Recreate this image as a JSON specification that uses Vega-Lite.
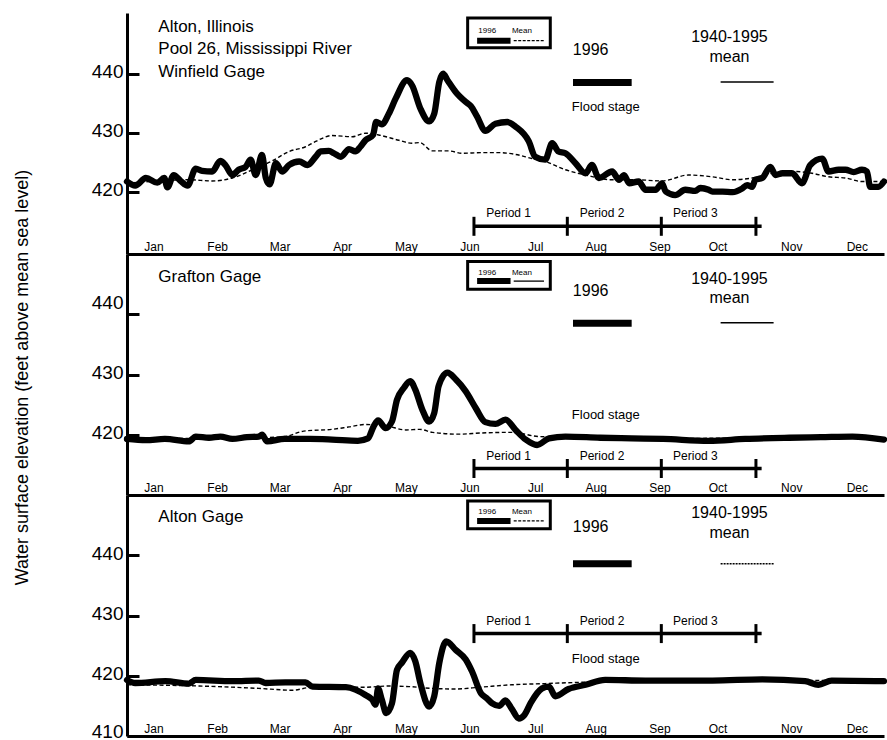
{
  "$schema": "https://vega.github.io/schema/vega-lite/v6.json",
  "padding": {"left": 12, "top": 13, "right": 0, "bottom": 0},
  "background": "white",
  "spacing": 0,
  "bounds": "flush",
  "config": {
    "view": {"stroke": null},
    "font": "Liberation Sans",
    "text": {"font": "Liberation Sans"},
    "axis": {"labelFont": "Liberation Sans", "titleFont": "Liberation Sans"}
  },
  "datasets": {
    "hydro": [
      {"g":"Winfield","s":"1996","month":0,"elev":421.7},{"g":"Winfield","s":"1996","month":0.13,"elev":421.0},{"g":"Winfield","s":"1996","month":0.3,"elev":422.3},{"g":"Winfield","s":"1996","month":0.48,"elev":421.5},{"g":"Winfield","s":"1996","month":0.59,"elev":422.3},{"g":"Winfield","s":"1996","month":0.64,"elev":420.7},{"g":"Winfield","s":"1996","month":0.74,"elev":422.8},{"g":"Winfield","s":"1996","month":0.85,"elev":421.8},{"g":"Winfield","s":"1996","month":0.96,"elev":421.0},{"g":"Winfield","s":"1996","month":1.09,"elev":423.9},{"g":"Winfield","s":"1996","month":1.19,"elev":423.5},{"g":"Winfield","s":"1996","month":1.35,"elev":423.4},{"g":"Winfield","s":"1996","month":1.48,"elev":425.2},{"g":"Winfield","s":"1996","month":1.56,"elev":424.5},{"g":"Winfield","s":"1996","month":1.67,"elev":422.8},{"g":"Winfield","s":"1996","month":1.77,"elev":423.7},{"g":"Winfield","s":"1996","month":1.88,"elev":424.2},{"g":"Winfield","s":"1996","month":1.96,"elev":425.4},{"g":"Winfield","s":"1996","month":2.04,"elev":422.8},{"g":"Winfield","s":"1996","month":2.14,"elev":426.2},{"g":"Winfield","s":"1996","month":2.2,"elev":422.3},{"g":"Winfield","s":"1996","month":2.26,"elev":421.2},{"g":"Winfield","s":"1996","month":2.36,"elev":424.8},{"g":"Winfield","s":"1996","month":2.46,"elev":423.4},{"g":"Winfield","s":"1996","month":2.57,"elev":424.5},{"g":"Winfield","s":"1996","month":2.73,"elev":425.1},{"g":"Winfield","s":"1996","month":2.86,"elev":424.5},{"g":"Winfield","s":"1996","month":2.99,"elev":425.9},{"g":"Winfield","s":"1996","month":3.07,"elev":426.8},{"g":"Winfield","s":"1996","month":3.2,"elev":426.9},{"g":"Winfield","s":"1996","month":3.28,"elev":426.5},{"g":"Winfield","s":"1996","month":3.39,"elev":425.9},{"g":"Winfield","s":"1996","month":3.52,"elev":427.2},{"g":"Winfield","s":"1996","month":3.62,"elev":426.8},{"g":"Winfield","s":"1996","month":3.7,"elev":427.6},{"g":"Winfield","s":"1996","month":3.78,"elev":428.7},{"g":"Winfield","s":"1996","month":3.9,"elev":429.6},{"g":"Winfield","s":"1996","month":3.95,"elev":431.8},{"g":"Winfield","s":"1996","month":4.04,"elev":431.4},{"g":"Winfield","s":"1996","month":4.15,"elev":433.2},{"g":"Winfield","s":"1996","month":4.26,"elev":435.8},{"g":"Winfield","s":"1996","month":4.44,"elev":438.9},{"g":"Winfield","s":"1996","month":4.52,"elev":438.0},{"g":"Winfield","s":"1996","month":4.65,"elev":434.1},{"g":"Winfield","s":"1996","month":4.79,"elev":431.9},{"g":"Winfield","s":"1996","month":4.87,"elev":433.2},{"g":"Winfield","s":"1996","month":4.95,"elev":438.6},{"g":"Winfield","s":"1996","month":5.01,"elev":440.0},{"g":"Winfield","s":"1996","month":5.08,"elev":438.9},{"g":"Winfield","s":"1996","month":5.21,"elev":436.9},{"g":"Winfield","s":"1996","month":5.37,"elev":435.2},{"g":"Winfield","s":"1996","month":5.45,"elev":434.5},{"g":"Winfield","s":"1996","month":5.55,"elev":432.7},{"g":"Winfield","s":"1996","month":5.68,"elev":430.3},{"g":"Winfield","s":"1996","month":5.84,"elev":431.5},{"g":"Winfield","s":"1996","month":6.03,"elev":431.8},{"g":"Winfield","s":"1996","month":6.16,"elev":431.0},{"g":"Winfield","s":"1996","month":6.37,"elev":428.5},{"g":"Winfield","s":"1996","month":6.47,"elev":425.9},{"g":"Winfield","s":"1996","month":6.63,"elev":425.4},{"g":"Winfield","s":"1996","month":6.74,"elev":428.2},{"g":"Winfield","s":"1996","month":6.84,"elev":426.8},{"g":"Winfield","s":"1996","month":6.95,"elev":426.5},{"g":"Winfield","s":"1996","month":7.11,"elev":424.8},{"g":"Winfield","s":"1996","month":7.27,"elev":423.1},{"g":"Winfield","s":"1996","month":7.37,"elev":424.5},{"g":"Winfield","s":"1996","month":7.48,"elev":422.3},{"g":"Winfield","s":"1996","month":7.69,"elev":423.4},{"g":"Winfield","s":"1996","month":7.8,"elev":422.0},{"g":"Winfield","s":"1996","month":7.88,"elev":422.8},{"g":"Winfield","s":"1996","month":7.96,"elev":421.4},{"g":"Winfield","s":"1996","month":8.11,"elev":421.7},{"g":"Winfield","s":"1996","month":8.22,"elev":420.3},{"g":"Winfield","s":"1996","month":8.38,"elev":420.3},{"g":"Winfield","s":"1996","month":8.48,"elev":421.4},{"g":"Winfield","s":"1996","month":8.54,"elev":420.0},{"g":"Winfield","s":"1996","month":8.69,"elev":419.4},{"g":"Winfield","s":"1996","month":8.85,"elev":420.3},{"g":"Winfield","s":"1996","month":9.01,"elev":420.1},{"g":"Winfield","s":"1996","month":9.09,"elev":420.6},{"g":"Winfield","s":"1996","month":9.22,"elev":420.3},{"g":"Winfield","s":"1996","month":9.28,"elev":420.0},{"g":"Winfield","s":"1996","month":9.44,"elev":420.0},{"g":"Winfield","s":"1996","month":9.6,"elev":419.9},{"g":"Winfield","s":"1996","month":9.75,"elev":420.5},{"g":"Winfield","s":"1996","month":9.83,"elev":421.1},{"g":"Winfield","s":"1996","month":9.91,"elev":420.8},{"g":"Winfield","s":"1996","month":9.96,"elev":422.0},{"g":"Winfield","s":"1996","month":10.07,"elev":422.3},{"g":"Winfield","s":"1996","month":10.2,"elev":424.2},{"g":"Winfield","s":"1996","month":10.28,"elev":422.8},{"g":"Winfield","s":"1996","month":10.39,"elev":423.1},{"g":"Winfield","s":"1996","month":10.54,"elev":423.1},{"g":"Winfield","s":"1996","month":10.7,"elev":421.4},{"g":"Winfield","s":"1996","month":10.83,"elev":424.5},{"g":"Winfield","s":"1996","month":11.02,"elev":425.6},{"g":"Winfield","s":"1996","month":11.12,"elev":423.4},{"g":"Winfield","s":"1996","month":11.28,"elev":423.7},{"g":"Winfield","s":"1996","month":11.39,"elev":423.7},{"g":"Winfield","s":"1996","month":11.52,"elev":423.3},{"g":"Winfield","s":"1996","month":11.65,"elev":423.7},{"g":"Winfield","s":"1996","month":11.73,"elev":423.4},{"g":"Winfield","s":"1996","month":11.78,"elev":420.8},{"g":"Winfield","s":"1996","month":11.91,"elev":420.8},{"g":"Winfield","s":"1996","month":12,"elev":421.7},
      {"g":"Winfield","s":"mean","month":0,"elev":421.4},{"g":"Winfield","s":"mean","month":0.98,"elev":422.0},{"g":"Winfield","s":"mean","month":1.35,"elev":421.8},{"g":"Winfield","s":"mean","month":1.67,"elev":422.3},{"g":"Winfield","s":"mean","month":1.99,"elev":423.7},{"g":"Winfield","s":"mean","month":2.3,"elev":425.2},{"g":"Winfield","s":"mean","month":2.57,"elev":426.8},{"g":"Winfield","s":"mean","month":2.83,"elev":427.6},{"g":"Winfield","s":"mean","month":2.99,"elev":428.5},{"g":"Winfield","s":"mean","month":3.25,"elev":429.5},{"g":"Winfield","s":"mean","month":3.57,"elev":429.3},{"g":"Winfield","s":"mean","month":3.78,"elev":429.9},{"g":"Winfield","s":"mean","month":3.99,"elev":429.6},{"g":"Winfield","s":"mean","month":4.31,"elev":428.7},{"g":"Winfield","s":"mean","month":4.52,"elev":428.2},{"g":"Winfield","s":"mean","month":4.64,"elev":428.3},{"g":"Winfield","s":"mean","month":4.84,"elev":426.9},{"g":"Winfield","s":"mean","month":5.1,"elev":426.9},{"g":"Winfield","s":"mean","month":5.31,"elev":426.5},{"g":"Winfield","s":"mean","month":5.63,"elev":426.6},{"g":"Winfield","s":"mean","month":5.9,"elev":426.6},{"g":"Winfield","s":"mean","month":6.16,"elev":426.3},{"g":"Winfield","s":"mean","month":6.42,"elev":425.6},{"g":"Winfield","s":"mean","month":6.63,"elev":425.1},{"g":"Winfield","s":"mean","month":6.95,"elev":423.7},{"g":"Winfield","s":"mean","month":7.27,"elev":422.8},{"g":"Winfield","s":"mean","month":7.69,"elev":422.0},{"g":"Winfield","s":"mean","month":8.06,"elev":422.0},{"g":"Winfield","s":"mean","month":8.48,"elev":421.8},{"g":"Winfield","s":"mean","month":8.9,"elev":422.8},{"g":"Winfield","s":"mean","month":9.28,"elev":422.5},{"g":"Winfield","s":"mean","month":9.6,"elev":422.0},{"g":"Winfield","s":"mean","month":9.91,"elev":422.3},{"g":"Winfield","s":"mean","month":10.22,"elev":423.1},{"g":"Winfield","s":"mean","month":10.59,"elev":423.4},{"g":"Winfield","s":"mean","month":10.86,"elev":423.1},{"g":"Winfield","s":"mean","month":11.12,"elev":422.5},{"g":"Winfield","s":"mean","month":11.39,"elev":422.3},{"g":"Winfield","s":"mean","month":11.65,"elev":421.7},{"g":"Winfield","s":"mean","month":12,"elev":421.7},
      {"g":"Grafton","s":"1996","month":0,"elev":419.3},{"g":"Grafton","s":"1996","month":0.3,"elev":419.1},{"g":"Grafton","s":"1996","month":0.6,"elev":419.3},{"g":"Grafton","s":"1996","month":0.98,"elev":418.9},{"g":"Grafton","s":"1996","month":1.09,"elev":419.7},{"g":"Grafton","s":"1996","month":1.3,"elev":419.5},{"g":"Grafton","s":"1996","month":1.48,"elev":419.7},{"g":"Grafton","s":"1996","month":1.67,"elev":419.3},{"g":"Grafton","s":"1996","month":1.9,"elev":419.6},{"g":"Grafton","s":"1996","month":2.09,"elev":419.7},{"g":"Grafton","s":"1996","month":2.14,"elev":420.0},{"g":"Grafton","s":"1996","month":2.22,"elev":418.9},{"g":"Grafton","s":"1996","month":2.5,"elev":419.3},{"g":"Grafton","s":"1996","month":2.9,"elev":419.3},{"g":"Grafton","s":"1996","month":3.25,"elev":419.2},{"g":"Grafton","s":"1996","month":3.66,"elev":419.0},{"g":"Grafton","s":"1996","month":3.82,"elev":419.4},{"g":"Grafton","s":"1996","month":3.91,"elev":421.4},{"g":"Grafton","s":"1996","month":3.98,"elev":422.4},{"g":"Grafton","s":"1996","month":4.1,"elev":421.1},{"g":"Grafton","s":"1996","month":4.2,"elev":422.2},{"g":"Grafton","s":"1996","month":4.28,"elev":425.8},{"g":"Grafton","s":"1996","month":4.39,"elev":427.8},{"g":"Grafton","s":"1996","month":4.49,"elev":428.9},{"g":"Grafton","s":"1996","month":4.57,"elev":427.5},{"g":"Grafton","s":"1996","month":4.68,"elev":424.2},{"g":"Grafton","s":"1996","month":4.79,"elev":422.2},{"g":"Grafton","s":"1996","month":4.87,"elev":423.6},{"g":"Grafton","s":"1996","month":4.94,"elev":428.1},{"g":"Grafton","s":"1996","month":5.08,"elev":430.3},{"g":"Grafton","s":"1996","month":5.21,"elev":429.2},{"g":"Grafton","s":"1996","month":5.37,"elev":427.2},{"g":"Grafton","s":"1996","month":5.53,"elev":424.4},{"g":"Grafton","s":"1996","month":5.68,"elev":422.1},{"g":"Grafton","s":"1996","month":5.84,"elev":421.8},{"g":"Grafton","s":"1996","month":6.0,"elev":422.5},{"g":"Grafton","s":"1996","month":6.16,"elev":420.8},{"g":"Grafton","s":"1996","month":6.32,"elev":419.2},{"g":"Grafton","s":"1996","month":6.5,"elev":418.3},{"g":"Grafton","s":"1996","month":6.69,"elev":419.4},{"g":"Grafton","s":"1996","month":6.95,"elev":419.7},{"g":"Grafton","s":"1996","month":7.5,"elev":419.5},{"g":"Grafton","s":"1996","month":8.0,"elev":419.4},{"g":"Grafton","s":"1996","month":8.5,"elev":419.3},{"g":"Grafton","s":"1996","month":9.22,"elev":419.0},{"g":"Grafton","s":"1996","month":9.8,"elev":419.3},{"g":"Grafton","s":"1996","month":10.5,"elev":419.5},{"g":"Grafton","s":"1996","month":11.0,"elev":419.6},{"g":"Grafton","s":"1996","month":11.5,"elev":419.7},{"g":"Grafton","s":"1996","month":12,"elev":419.2},
      {"g":"Grafton","s":"mean","month":0,"elev":419.4},{"g":"Grafton","s":"mean","month":1.0,"elev":419.4},{"g":"Grafton","s":"mean","month":2.0,"elev":419.5},{"g":"Grafton","s":"mean","month":2.5,"elev":419.7},{"g":"Grafton","s":"mean","month":2.8,"elev":420.6},{"g":"Grafton","s":"mean","month":3.25,"elev":420.9},{"g":"Grafton","s":"mean","month":3.52,"elev":421.3},{"g":"Grafton","s":"mean","month":3.78,"elev":421.7},{"g":"Grafton","s":"mean","month":4.1,"elev":421.5},{"g":"Grafton","s":"mean","month":4.42,"elev":420.8},{"g":"Grafton","s":"mean","month":4.64,"elev":420.9},{"g":"Grafton","s":"mean","month":4.84,"elev":420.4},{"g":"Grafton","s":"mean","month":5.26,"elev":420.1},{"g":"Grafton","s":"mean","month":5.63,"elev":420.3},{"g":"Grafton","s":"mean","month":6.1,"elev":420.4},{"g":"Grafton","s":"mean","month":6.53,"elev":419.7},{"g":"Grafton","s":"mean","month":7.0,"elev":419.6},{"g":"Grafton","s":"mean","month":8.0,"elev":419.5},{"g":"Grafton","s":"mean","month":9.0,"elev":419.4},{"g":"Grafton","s":"mean","month":10.0,"elev":419.5},{"g":"Grafton","s":"mean","month":11.0,"elev":419.6},{"g":"Grafton","s":"mean","month":12,"elev":419.5},
      {"g":"Alton","s":"1996","month":0,"elev":419.3},{"g":"Alton","s":"1996","month":0.13,"elev":418.8},{"g":"Alton","s":"1996","month":0.61,"elev":419.1},{"g":"Alton","s":"1996","month":0.98,"elev":418.7},{"g":"Alton","s":"1996","month":1.09,"elev":419.3},{"g":"Alton","s":"1996","month":1.67,"elev":419.1},{"g":"Alton","s":"1996","month":2.09,"elev":419.2},{"g":"Alton","s":"1996","month":2.2,"elev":418.8},{"g":"Alton","s":"1996","month":2.51,"elev":418.9},{"g":"Alton","s":"1996","month":2.83,"elev":418.9},{"g":"Alton","s":"1996","month":2.94,"elev":418.2},{"g":"Alton","s":"1996","month":3.47,"elev":418.1},{"g":"Alton","s":"1996","month":3.62,"elev":417.7},{"g":"Alton","s":"1996","month":3.78,"elev":416.8},{"g":"Alton","s":"1996","month":3.89,"elev":416.0},{"g":"Alton","s":"1996","month":3.94,"elev":415.2},{"g":"Alton","s":"1996","month":3.98,"elev":417.9},{"g":"Alton","s":"1996","month":4.04,"elev":416.0},{"g":"Alton","s":"1996","month":4.11,"elev":413.8},{"g":"Alton","s":"1996","month":4.2,"elev":415.4},{"g":"Alton","s":"1996","month":4.28,"elev":421.0},{"g":"Alton","s":"1996","month":4.36,"elev":422.2},{"g":"Alton","s":"1996","month":4.49,"elev":423.8},{"g":"Alton","s":"1996","month":4.57,"elev":422.4},{"g":"Alton","s":"1996","month":4.65,"elev":418.8},{"g":"Alton","s":"1996","month":4.79,"elev":414.9},{"g":"Alton","s":"1996","month":4.87,"elev":416.6},{"g":"Alton","s":"1996","month":4.95,"elev":422.1},{"g":"Alton","s":"1996","month":5.06,"elev":425.7},{"g":"Alton","s":"1996","month":5.21,"elev":424.3},{"g":"Alton","s":"1996","month":5.37,"elev":422.7},{"g":"Alton","s":"1996","month":5.47,"elev":420.7},{"g":"Alton","s":"1996","month":5.61,"elev":417.1},{"g":"Alton","s":"1996","month":5.7,"elev":416.3},{"g":"Alton","s":"1996","month":5.79,"elev":415.4},{"g":"Alton","s":"1996","month":5.9,"elev":415.0},{"g":"Alton","s":"1996","month":6.0,"elev":415.9},{"g":"Alton","s":"1996","month":6.1,"elev":414.5},{"g":"Alton","s":"1996","month":6.21,"elev":412.9},{"g":"Alton","s":"1996","month":6.3,"elev":413.5},{"g":"Alton","s":"1996","month":6.4,"elev":415.5},{"g":"Alton","s":"1996","month":6.58,"elev":417.9},{"g":"Alton","s":"1996","month":6.69,"elev":418.2},{"g":"Alton","s":"1996","month":6.79,"elev":416.6},{"g":"Alton","s":"1996","month":7.0,"elev":417.8},{"g":"Alton","s":"1996","month":7.27,"elev":418.5},{"g":"Alton","s":"1996","month":7.58,"elev":419.3},{"g":"Alton","s":"1996","month":8.22,"elev":419.2},{"g":"Alton","s":"1996","month":9.28,"elev":419.2},{"g":"Alton","s":"1996","month":10.07,"elev":419.4},{"g":"Alton","s":"1996","month":10.75,"elev":419.1},{"g":"Alton","s":"1996","month":10.96,"elev":418.5},{"g":"Alton","s":"1996","month":11.17,"elev":419.2},{"g":"Alton","s":"1996","month":12,"elev":419.1},
      {"g":"Alton","s":"mean","month":0,"elev":418.5},{"g":"Alton","s":"mean","month":1.14,"elev":418.3},{"g":"Alton","s":"mean","month":2.09,"elev":417.9},{"g":"Alton","s":"mean","month":2.62,"elev":417.6},{"g":"Alton","s":"mean","month":2.94,"elev":418.1},{"g":"Alton","s":"mean","month":3.57,"elev":418.1},{"g":"Alton","s":"mean","month":3.78,"elev":418.1},{"g":"Alton","s":"mean","month":4.15,"elev":418.3},{"g":"Alton","s":"mean","month":4.47,"elev":418.2},{"g":"Alton","s":"mean","month":4.84,"elev":417.9},{"g":"Alton","s":"mean","month":5.21,"elev":417.8},{"g":"Alton","s":"mean","month":5.6,"elev":418.1},{"g":"Alton","s":"mean","month":6.1,"elev":418.5},{"g":"Alton","s":"mean","month":6.63,"elev":418.7},{"g":"Alton","s":"mean","month":7.16,"elev":418.9},{"g":"Alton","s":"mean","month":8.0,"elev":419.1},{"g":"Alton","s":"mean","month":9.0,"elev":419.2},{"g":"Alton","s":"mean","month":10.0,"elev":419.3},{"g":"Alton","s":"mean","month":11.0,"elev":419.2},{"g":"Alton","s":"mean","month":12,"elev":419.2}
    ],
    "notes": [
      {"g":"Winfield","role":"title","text":"Alton, Illinois","month":0.496,"elev":447.0},
      {"g":"Winfield","role":"title","text":"Pool 26, Mississippi River","month":0.496,"elev":443.3},
      {"g":"Winfield","role":"title","text":"Winfield Gage","month":0.496,"elev":439.4},
      {"g":"Winfield","role":"big","text":"1996","month":7.35,"elev":443.1},
      {"g":"Winfield","role":"big","text":"1940-1995","month":9.55,"elev":445.4},
      {"g":"Winfield","role":"big","text":"mean","month":9.55,"elev":442.0},
      {"g":"Winfield","role":"small","text":"1996","month":5.71,"elev":446.9},
      {"g":"Winfield","role":"small","text":"Mean","month":6.26,"elev":446.9},
      {"g":"Winfield","role":"flood","text":"Flood stage","month":7.59,"elev":433.7},
      {"g":"Winfield","role":"period","text":"Period 1","month":6.05,"elev":415.6},
      {"g":"Winfield","role":"period","text":"Period 2","month":7.53,"elev":415.6},
      {"g":"Winfield","role":"period","text":"Period 3","month":9.01,"elev":415.6},
      {"g":"Grafton","role":"title","text":"Grafton Gage","month":0.496,"elev":445.3},
      {"g":"Grafton","role":"big","text":"1996","month":7.35,"elev":443.0},
      {"g":"Grafton","role":"big","text":"1940-1995","month":9.55,"elev":445.1},
      {"g":"Grafton","role":"big","text":"mean","month":9.55,"elev":441.8},
      {"g":"Grafton","role":"small","text":"1996","month":5.71,"elev":446.5},
      {"g":"Grafton","role":"small","text":"Mean","month":6.26,"elev":446.5},
      {"g":"Grafton","role":"flood","text":"Flood stage","month":7.59,"elev":422.6},
      {"g":"Grafton","role":"period","text":"Period 1","month":6.05,"elev":415.8},
      {"g":"Grafton","role":"period","text":"Period 2","month":7.53,"elev":415.8},
      {"g":"Grafton","role":"period","text":"Period 3","month":9.01,"elev":415.8},
      {"g":"Alton","role":"title","text":"Alton Gage","month":0.496,"elev":445.55},
      {"g":"Alton","role":"big","text":"1996","month":7.35,"elev":443.8},
      {"g":"Alton","role":"big","text":"1940-1995","month":9.55,"elev":446.1},
      {"g":"Alton","role":"big","text":"mean","month":9.55,"elev":442.8},
      {"g":"Alton","role":"small","text":"1996","month":5.71,"elev":446.8},
      {"g":"Alton","role":"small","text":"Mean","month":6.26,"elev":446.8},
      {"g":"Alton","role":"flood","text":"Flood stage","month":7.59,"elev":422.1},
      {"g":"Alton","role":"period","text":"Period 1","month":6.05,"elev":428.4},
      {"g":"Alton","role":"period","text":"Period 2","month":7.53,"elev":428.4},
      {"g":"Alton","role":"period","text":"Period 3","month":9.01,"elev":428.4}
    ],
    "boxes": [
      {"g":"Winfield","month":5.4,"month2":6.71,"elev":449.46,"elev2":444.39},
      {"g":"Grafton","month":5.4,"month2":6.71,"elev":448.76,"elev2":444.13},
      {"g":"Alton","month":5.4,"month2":6.71,"elev":449.0,"elev2":444.38}
    ],
    "keys": [
      {"g":"Winfield","key":"small1996","month":5.55,"month2":6.08,"elev":445.6},
      {"g":"Winfield","key":"smallMean","month":6.13,"month2":6.61,"elev":445.6},
      {"g":"Winfield","key":"big1996","month":7.07,"month2":8.0,"elev":438.5},
      {"g":"Winfield","key":"bigMean","month":9.41,"month2":10.25,"elev":438.6},
      {"g":"Grafton","key":"small1996","month":5.55,"month2":6.08,"elev":445.5},
      {"g":"Grafton","key":"smallMean","month":6.13,"month2":6.61,"elev":445.5},
      {"g":"Grafton","key":"big1996","month":7.07,"month2":8.0,"elev":438.5},
      {"g":"Grafton","key":"bigMean","month":9.41,"month2":10.25,"elev":438.6},
      {"g":"Alton","key":"small1996","month":5.55,"month2":6.08,"elev":445.7},
      {"g":"Alton","key":"smallMean","month":6.13,"month2":6.61,"elev":445.7},
      {"g":"Alton","key":"big1996","month":7.07,"month2":8.0,"elev":438.6},
      {"g":"Alton","key":"bigMean","month":9.41,"month2":10.25,"elev":438.6}
    ],
    "levels": [
      {"g":"Winfield","elev":433.0},
      {"g":"Grafton","elev":422.0},
      {"g":"Alton","elev":421.0}
    ],
    "periods": [
      {"g":"Winfield","month":5.5,"month2":10.06,"elev":414.1},
      {"g":"Grafton","month":5.5,"month2":10.06,"elev":414.4},
      {"g":"Alton","month":5.5,"month2":10.06,"elev":427.0}
    ],
    "periodTicks": [
      {"g":"Winfield","month":5.5,"elev":414.1},{"g":"Winfield","month":6.98,"elev":414.1},{"g":"Winfield","month":8.47,"elev":414.1},{"g":"Winfield","month":9.97,"elev":414.1},
      {"g":"Grafton","month":5.5,"elev":414.4},{"g":"Grafton","month":6.98,"elev":414.4},{"g":"Grafton","month":8.47,"elev":414.4},{"g":"Grafton","month":9.97,"elev":414.4},
      {"g":"Alton","month":5.5,"elev":427.0},{"g":"Alton","month":6.98,"elev":427.0},{"g":"Alton","month":8.47,"elev":427.0},{"g":"Alton","month":9.97,"elev":427.0}
    ],
    "monthTicks": [
      {"month":1},{"month":2},{"month":3},{"month":4},{"month":5},{"month":6},{"month":7},{"month":8},{"month":9},{"month":10},{"month":11},{"month":12}
    ]
  },
  "vconcat": [
    {
      "width": 757, "height": 241,
      "encoding": {
        "x": {"field": "month", "type": "quantitative", "title": null,
          "scale": {"domain": [0, 12], "nice": false, "zero": false},
          "axis": {"values": [0.42,1.43,2.42,3.41,4.42,5.43,6.47,7.43,8.44,9.36,10.53,11.57],
            "labelExpr": "['Jan','Feb','Mar','Apr','May','Jun','Jul','Aug','Sep','Oct','Nov','Dec'][floor(datum.value)]",
            "grid": false, "ticks": false, "tickSize": 0, "domainWidth": 3, "domainColor": "black",
            "labelPadding": -4, "labelBaseline": "alphabetic", "labelFontSize": 12, "labelColor": "black",
            "labelOverlap": false, "labelFlush": false, "labelBound": false}},
        "y": {"field": "elev", "type": "quantitative", "title": null,
          "scale": {"domain": [409.4, 450.3], "nice": false, "zero": false},
          "axis": {"values": [420, 430, 440], "grid": false, "domainWidth": 3, "domainColor": "black",
            "tickSize": -12, "tickWidth": 3, "tickColor": "black", "labelPadding": 16, "labelFontSize": 19,
            "labelColor": "black", "labelOffset": -2, "labelOverlap": false, "labelFlush": false, "labelBound": false}}
      },
      "layer": [
        {"data": {"name": "boxes"}, "transform": [{"filter": "datum.g === 'Winfield'"}],
          "mark": {"type": "rect", "fill": "white", "stroke": "black", "strokeWidth": 3},
          "encoding": {"x2": {"field": "month2"}, "y2": {"field": "elev2"}}},
        {"data": {"name": "keys"}, "transform": [{"filter": "datum.g === 'Winfield' && datum.key === 'small1996'"}],
          "mark": {"type": "rule", "color": "black", "strokeWidth": 6}, "encoding": {"x2": {"field": "month2"}}},
        {"data": {"name": "keys"}, "transform": [{"filter": "datum.g === 'Winfield' && datum.key === 'smallMean'"}],
          "mark": {"type": "rule", "color": "black", "strokeWidth": 1.3, "strokeDash": [3, 1.5]}, "encoding": {"x2": {"field": "month2"}}},
        {"data": {"name": "keys"}, "transform": [{"filter": "datum.g === 'Winfield' && datum.key === 'big1996'"}],
          "mark": {"type": "rule", "color": "black", "strokeWidth": 7}, "encoding": {"x2": {"field": "month2"}}},
        {"data": {"name": "keys"}, "transform": [{"filter": "datum.g === 'Winfield' && datum.key === 'bigMean'"}],
          "mark": {"type": "rule", "color": "black", "strokeWidth": 1.5}, "encoding": {"x2": {"field": "month2"}}},
        {"data": {"name": "levels"}, "transform": [{"filter": "datum.g === 'Winfield'"}],
          "mark": {"type": "rule", "color": "black", "strokeWidth": 1.3},
          "encoding": {"x": {"datum": 0}, "x2": {"datum": 12.03}}},
        {"data": {"values": [{}]},
          "mark": {"type": "rule", "color": "black", "strokeWidth": 3},
          "encoding": {"x": {"datum": 0}, "x2": {"datum": 12.03}, "y": {"datum": 450.3}}},
        {"data": {"name": "periods"}, "transform": [{"filter": "datum.g === 'Winfield'"}],
          "mark": {"type": "rule", "color": "black", "strokeWidth": 3.5},
          "encoding": {"x2": {"field": "month2"}}},
        {"data": {"name": "periodTicks"}, "transform": [{"filter": "datum.g === 'Winfield'"}],
          "mark": {"type": "tick", "orient": "vertical", "size": 19, "thickness": 3, "color": "black", "opacity": 1}},
        {"data": {"name": "monthTicks"},
          "mark": {"type": "tick", "orient": "vertical", "size": 11, "thickness": 3, "color": "black", "opacity": 1},
          "encoding": {"y": {"datum": 409.4}}},
        {"data": {"name": "hydro"}, "transform": [{"filter": "datum.g === 'Winfield' && datum.s === 'mean'"}],
          "mark": {"type": "line", "color": "black", "strokeWidth": 1.4, "strokeDash": [4, 2.5], "interpolate": "monotone"}},
        {"data": {"name": "hydro"}, "transform": [{"filter": "datum.g === 'Winfield' && datum.s === '1996'"}],
          "mark": {"type": "line", "color": "black", "strokeWidth": 6.3, "interpolate": "monotone", "strokeJoin": "round", "strokeCap": "round"}},
        {"data": {"name": "notes"}, "transform": [{"filter": "datum.g === 'Winfield' && datum.role === 'title'"}],
          "mark": {"type": "text", "align": "left", "baseline": "alphabetic", "fontSize": 17, "color": "black"},
          "encoding": {"text": {"field": "text"}}},
        {"data": {"name": "notes"}, "transform": [{"filter": "datum.g === 'Winfield' && datum.role === 'big'"}],
          "mark": {"type": "text", "align": "center", "baseline": "alphabetic", "fontSize": 16, "color": "black"},
          "encoding": {"text": {"field": "text"}}},
        {"data": {"name": "notes"}, "transform": [{"filter": "datum.g === 'Winfield' && datum.role === 'small'"}],
          "mark": {"type": "text", "align": "center", "baseline": "alphabetic", "fontSize": 8, "color": "black"},
          "encoding": {"text": {"field": "text"}}},
        {"data": {"name": "notes"}, "transform": [{"filter": "datum.g === 'Winfield' && datum.role === 'flood'"}],
          "mark": {"type": "text", "align": "center", "baseline": "alphabetic", "fontSize": 13, "color": "black"},
          "encoding": {"text": {"field": "text"}}},
        {"data": {"name": "notes"}, "transform": [{"filter": "datum.g === 'Winfield' && datum.role === 'period'"}],
          "mark": {"type": "text", "align": "center", "baseline": "alphabetic", "fontSize": 12, "color": "black"},
          "encoding": {"text": {"field": "text"}}}
      ]
    },
    {
      "width": 757, "height": 241,
      "encoding": {
        "x": {"field": "month", "type": "quantitative", "title": null,
          "scale": {"domain": [0, 12], "nice": false, "zero": false},
          "axis": {"values": [0.42,1.43,2.42,3.41,4.42,5.43,6.47,7.43,8.44,9.36,10.53,11.57],
            "labelExpr": "['Jan','Feb','Mar','Apr','May','Jun','Jul','Aug','Sep','Oct','Nov','Dec'][floor(datum.value)]",
            "grid": false, "ticks": false, "tickSize": 0, "domainWidth": 3, "domainColor": "black",
            "labelPadding": -4, "labelBaseline": "alphabetic", "labelFontSize": 12, "labelColor": "black",
            "labelOverlap": false, "labelFlush": false, "labelBound": false}},
        "y": {"field": "elev", "type": "quantitative", "title": "Water surface elevation (feet above mean sea level)",
          "scale": {"domain": [410, 450], "nice": false, "zero": false},
          "axis": {"values": [420, 430, 440], "grid": false, "domainWidth": 3, "domainColor": "black",
            "tickSize": -12, "tickWidth": 3, "tickColor": "black", "labelPadding": 16, "labelFontSize": 19,
            "labelColor": "black",
            "labelOffset": {"condition": {"test": "datum.value === 440", "value": -12}, "value": -2},
            "labelOverlap": false, "labelFlush": false, "labelBound": false,
            "titleFontSize": 18, "titleFontWeight": "normal", "titleColor": "black",
            "titleAngle": -90, "titleBaseline": "bottom", "titleAlign": "center", "titleX": -96, "titleY": 123}}
      },
      "layer": [
        {"data": {"name": "boxes"}, "transform": [{"filter": "datum.g === 'Grafton'"}],
          "mark": {"type": "rect", "fill": "white", "stroke": "black", "strokeWidth": 3},
          "encoding": {"x2": {"field": "month2"}, "y2": {"field": "elev2"}}},
        {"data": {"name": "keys"}, "transform": [{"filter": "datum.g === 'Grafton' && datum.key === 'small1996'"}],
          "mark": {"type": "rule", "color": "black", "strokeWidth": 6}, "encoding": {"x2": {"field": "month2"}}},
        {"data": {"name": "keys"}, "transform": [{"filter": "datum.g === 'Grafton' && datum.key === 'smallMean'"}],
          "mark": {"type": "rule", "color": "black", "strokeWidth": 1.3}, "encoding": {"x2": {"field": "month2"}}},
        {"data": {"name": "keys"}, "transform": [{"filter": "datum.g === 'Grafton' && datum.key === 'big1996'"}],
          "mark": {"type": "rule", "color": "black", "strokeWidth": 7}, "encoding": {"x2": {"field": "month2"}}},
        {"data": {"name": "keys"}, "transform": [{"filter": "datum.g === 'Grafton' && datum.key === 'bigMean'"}],
          "mark": {"type": "rule", "color": "black", "strokeWidth": 1.5}, "encoding": {"x2": {"field": "month2"}}},
        {"data": {"name": "levels"}, "transform": [{"filter": "datum.g === 'Grafton'"}],
          "mark": {"type": "rule", "color": "black", "strokeWidth": 1.3},
          "encoding": {"x": {"datum": 0}, "x2": {"datum": 12.03}}},
        {"data": {"name": "periods"}, "transform": [{"filter": "datum.g === 'Grafton'"}],
          "mark": {"type": "rule", "color": "black", "strokeWidth": 3.5},
          "encoding": {"x2": {"field": "month2"}}},
        {"data": {"name": "periodTicks"}, "transform": [{"filter": "datum.g === 'Grafton'"}],
          "mark": {"type": "tick", "orient": "vertical", "size": 19, "thickness": 3, "color": "black", "opacity": 1}},
        {"data": {"name": "monthTicks"},
          "mark": {"type": "tick", "orient": "vertical", "size": 11, "thickness": 3, "color": "black", "opacity": 1},
          "encoding": {"y": {"datum": 410}}},
        {"data": {"name": "hydro"}, "transform": [{"filter": "datum.g === 'Grafton' && datum.s === 'mean'"}],
          "mark": {"type": "line", "color": "black", "strokeWidth": 1.4, "strokeDash": [4, 2.5], "interpolate": "monotone"}},
        {"data": {"name": "hydro"}, "transform": [{"filter": "datum.g === 'Grafton' && datum.s === '1996'"}],
          "mark": {"type": "line", "color": "black", "strokeWidth": 6.3, "interpolate": "monotone", "strokeJoin": "round", "strokeCap": "round"}},
        {"data": {"name": "notes"}, "transform": [{"filter": "datum.g === 'Grafton' && datum.role === 'title'"}],
          "mark": {"type": "text", "align": "left", "baseline": "alphabetic", "fontSize": 17, "color": "black"},
          "encoding": {"text": {"field": "text"}}},
        {"data": {"name": "notes"}, "transform": [{"filter": "datum.g === 'Grafton' && datum.role === 'big'"}],
          "mark": {"type": "text", "align": "center", "baseline": "alphabetic", "fontSize": 16, "color": "black"},
          "encoding": {"text": {"field": "text"}}},
        {"data": {"name": "notes"}, "transform": [{"filter": "datum.g === 'Grafton' && datum.role === 'small'"}],
          "mark": {"type": "text", "align": "center", "baseline": "alphabetic", "fontSize": 8, "color": "black"},
          "encoding": {"text": {"field": "text"}}},
        {"data": {"name": "notes"}, "transform": [{"filter": "datum.g === 'Grafton' && datum.role === 'flood'"}],
          "mark": {"type": "text", "align": "center", "baseline": "alphabetic", "fontSize": 13, "color": "black"},
          "encoding": {"text": {"field": "text"}}},
        {"data": {"name": "notes"}, "transform": [{"filter": "datum.g === 'Grafton' && datum.role === 'period'"}],
          "mark": {"type": "text", "align": "center", "baseline": "alphabetic", "fontSize": 12, "color": "black"},
          "encoding": {"text": {"field": "text"}}}
      ]
    },
    {
      "width": 757, "height": 241,
      "encoding": {
        "x": {"field": "month", "type": "quantitative", "title": null,
          "scale": {"domain": [0, 12], "nice": false, "zero": false},
          "axis": {"values": [0.42,1.43,2.42,3.41,4.42,5.43,6.47,7.43,8.44,9.36,10.53,11.57],
            "labelExpr": "['Jan','Feb','Mar','Apr','May','Jun','Jul','Aug','Sep','Oct','Nov','Dec'][floor(datum.value)]",
            "grid": false, "ticks": false, "tickSize": 0, "domainWidth": 3, "domainColor": "black",
            "labelPadding": -4, "labelBaseline": "alphabetic", "labelFontSize": 12, "labelColor": "black",
            "labelOverlap": false, "labelFlush": false, "labelBound": false}},
        "y": {"field": "elev", "type": "quantitative", "title": null,
          "scale": {"domain": [410, 450], "nice": false, "zero": false},
          "axis": {"values": [410, 420, 430, 440], "grid": false, "domainWidth": 3, "domainColor": "black",
            "tickSize": -12, "tickWidth": 3, "tickColor": "black", "labelPadding": 16, "labelFontSize": 19,
            "labelColor": "black",
            "labelOffset": {"condition": {"test": "datum.value === 410", "value": -5}, "value": -2},
            "labelOverlap": false, "labelFlush": false, "labelBound": false}}
      },
      "layer": [
        {"data": {"name": "boxes"}, "transform": [{"filter": "datum.g === 'Alton'"}],
          "mark": {"type": "rect", "fill": "white", "stroke": "black", "strokeWidth": 3},
          "encoding": {"x2": {"field": "month2"}, "y2": {"field": "elev2"}}},
        {"data": {"name": "keys"}, "transform": [{"filter": "datum.g === 'Alton' && datum.key === 'small1996'"}],
          "mark": {"type": "rule", "color": "black", "strokeWidth": 6}, "encoding": {"x2": {"field": "month2"}}},
        {"data": {"name": "keys"}, "transform": [{"filter": "datum.g === 'Alton' && datum.key === 'smallMean'"}],
          "mark": {"type": "rule", "color": "black", "strokeWidth": 1.3, "strokeDash": [3, 1.5]}, "encoding": {"x2": {"field": "month2"}}},
        {"data": {"name": "keys"}, "transform": [{"filter": "datum.g === 'Alton' && datum.key === 'big1996'"}],
          "mark": {"type": "rule", "color": "black", "strokeWidth": 7}, "encoding": {"x2": {"field": "month2"}}},
        {"data": {"name": "keys"}, "transform": [{"filter": "datum.g === 'Alton' && datum.key === 'bigMean'"}],
          "mark": {"type": "rule", "color": "black", "strokeWidth": 1.5, "strokeDash": [2, 1]}, "encoding": {"x2": {"field": "month2"}}},
        {"data": {"name": "levels"}, "transform": [{"filter": "datum.g === 'Alton'"}],
          "mark": {"type": "rule", "color": "black", "strokeWidth": 1.3},
          "encoding": {"x": {"datum": 0}, "x2": {"datum": 12.03}}},
        {"data": {"name": "periods"}, "transform": [{"filter": "datum.g === 'Alton'"}],
          "mark": {"type": "rule", "color": "black", "strokeWidth": 3.5},
          "encoding": {"x2": {"field": "month2"}}},
        {"data": {"name": "periodTicks"}, "transform": [{"filter": "datum.g === 'Alton'"}],
          "mark": {"type": "tick", "orient": "vertical", "size": 19, "thickness": 3, "color": "black", "opacity": 1}},
        {"data": {"name": "monthTicks"},
          "mark": {"type": "tick", "orient": "vertical", "size": 11, "thickness": 3, "color": "black", "opacity": 1},
          "encoding": {"y": {"datum": 410}}},
        {"data": {"name": "hydro"}, "transform": [{"filter": "datum.g === 'Alton' && datum.s === 'mean'"}],
          "mark": {"type": "line", "color": "black", "strokeWidth": 1.4, "strokeDash": [4, 2.5], "interpolate": "monotone"}},
        {"data": {"name": "hydro"}, "transform": [{"filter": "datum.g === 'Alton' && datum.s === '1996'"}],
          "mark": {"type": "line", "color": "black", "strokeWidth": 6.3, "interpolate": "monotone", "strokeJoin": "round", "strokeCap": "round"}},
        {"data": {"name": "notes"}, "transform": [{"filter": "datum.g === 'Alton' && datum.role === 'title'"}],
          "mark": {"type": "text", "align": "left", "baseline": "alphabetic", "fontSize": 17, "color": "black"},
          "encoding": {"text": {"field": "text"}}},
        {"data": {"name": "notes"}, "transform": [{"filter": "datum.g === 'Alton' && datum.role === 'big'"}],
          "mark": {"type": "text", "align": "center", "baseline": "alphabetic", "fontSize": 16, "color": "black"},
          "encoding": {"text": {"field": "text"}}},
        {"data": {"name": "notes"}, "transform": [{"filter": "datum.g === 'Alton' && datum.role === 'small'"}],
          "mark": {"type": "text", "align": "center", "baseline": "alphabetic", "fontSize": 8, "color": "black"},
          "encoding": {"text": {"field": "text"}}},
        {"data": {"name": "notes"}, "transform": [{"filter": "datum.g === 'Alton' && datum.role === 'flood'"}],
          "mark": {"type": "text", "align": "center", "baseline": "alphabetic", "fontSize": 13, "color": "black"},
          "encoding": {"text": {"field": "text"}}},
        {"data": {"name": "notes"}, "transform": [{"filter": "datum.g === 'Alton' && datum.role === 'period'"}],
          "mark": {"type": "text", "align": "center", "baseline": "alphabetic", "fontSize": 12, "color": "black"},
          "encoding": {"text": {"field": "text"}}}
      ]
    }
  ]
}
